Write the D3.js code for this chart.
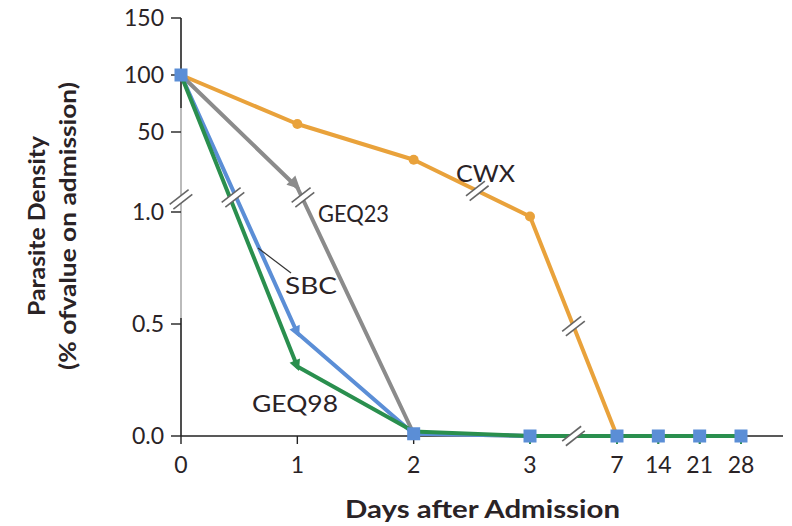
<!DOCTYPE html>
<html><head><meta charset="utf-8">
<script src="https://cdn.jsdelivr.net/npm/d3@7"></script>
<style>
html,body{margin:0;padding:0;background:#fff;}
svg{display:block;}
text{font-family:Lato,"Open Sans",sans-serif;fill:#2a2326;}
</style></head><body>
<svg id="c" width="792" height="526"></svg>
<script>
const days = ["0","1","2","3","7","14","21","28"];
const yTickValues = [0, 0.5, 1, 50, 100, 150];
const yTickLabels = ["0.0","0.5","1.0","50","100","150"];
const cwx   = [100, 57, 33, 0.98, 0, null, null, null];
const geq23 = [100, 16, 0.01, 0, 0, 0, 0, 0];
const sbc   = [100, 0.46, 0.01, 0, 0, 0, 0, 0];
const geq98 = [100, 0.31, 0.02, 0, 0, 0, 0, 0];
const seriesNames = ["CWX","GEQ23","SBC","GEQ98"];
const seriesColors = ["#E9A23B","#8B8B8B","#5B8ED6","#2A8F4E"];

const svg = d3.select("#c");
// piecewise scales (broken axes)
const x = d3.scaleLinear().domain([0,3,4,7]).range([181,530,617,741]);
const y = d3.scaleLinear().domain([0,1,50,150]).range([436,212,132,18]);
const idx = d => days.indexOf(d);

// axes
const gx = svg.append("g").attr("transform","translate(0,436)");
gx.append("line").attr("x1",181).attr("x2",783).attr("stroke","#222").attr("stroke-width",1.6);
const xt = gx.selectAll("g.t").data(days).enter().append("g").attr("transform",d=>`translate(${x(idx(d))},0)`);
xt.append("line").attr("y1",0).attr("y2",8).attr("stroke","#222").attr("stroke-width",1.4);
xt.append("text").attr("y",37).attr("text-anchor","middle").style("font-size","23px").text(d=>d);

const gy = svg.append("g").attr("transform","translate(181,0)");
gy.append("line").attr("y1",18).attr("y2",108).attr("stroke","#222").attr("stroke-width",1.6);
gy.append("line").attr("y1",108).attr("y2",318).attr("stroke","#aaa").attr("stroke-width",1.6);
gy.append("line").attr("y1",318).attr("y2",436).attr("stroke","#222").attr("stroke-width",1.6);
const yt = gy.selectAll("g.t").data(yTickValues).enter().append("g").attr("transform",d=>`translate(0,${y(d)})`);
yt.append("line").attr("x1",-10).attr("x2",0).attr("stroke","#222").attr("stroke-width",1.4);
yt.append("text").attr("x",-17).attr("dy","0.36em").attr("text-anchor","end").style("font-size","23px").text((d,i)=>yTickLabels[i]);

// lines
const line = d3.line().defined(d=>d.v!=null).x(d=>x(d.i)).y(d=>y(d.v));
const all = [cwx, geq23, sbc, geq98];
const pts = all.map(s=>s.map((v,i)=>({i,v})));
pts.forEach((p,k)=>{
  svg.append("path").attr("d",line(p)).attr("fill","none").attr("stroke",seriesColors[k])
    .attr("stroke-width",4).attr("stroke-linejoin","round");
});

// markers
svg.selectAll("circle.cwx").data(pts[0].filter(d=>d.i>=1&&d.i<=3)).enter().append("circle")
  .attr("cx",d=>x(d.i)).attr("cy",d=>y(d.v)).attr("r",5).attr("fill",seriesColors[0]);
function tri(cx,cy,ang,col,s){
  const g = svg.append("g").attr("transform",`translate(${cx},${cy}) rotate(${ang})`);
  g.append("path").attr("d",`M0,${s} L${-s*0.8},${-s*0.6} L${s*0.8},${-s*0.6} Z`).attr("fill",col);
}
function segAng(a,b){ return Math.atan2(y(b.v)-y(a.v), x(b.i)-x(a.i))*180/Math.PI - 90; }
tri(x(1)-3, y(geq23[1])-4, segAng(pts[1][0],pts[1][1]), seriesColors[1], 8);
tri(x(1)-1, y(sbc[1])-2, segAng(pts[2][0],pts[2][1]), seriesColors[2], 7);
tri(x(1)-1, y(geq98[1])-2, segAng(pts[3][0],pts[3][1]), seriesColors[3], 7);
svg.selectAll("line.gt").data(pts[3].filter(d=>d.i>=2)).enter().append("line")
  .attr("x1",d=>x(d.i)).attr("x2",d=>x(d.i)).attr("y1",d=>y(d.v)).attr("y2",d=>y(d.v)+8)
  .attr("stroke",seriesColors[3]).attr("stroke-width",2);
const sq = pts[2].filter(d=>d.i!==1);
svg.selectAll("rect.sq").data(sq).enter().append("rect")
  .attr("x",d=>x(d.i)-6.5).attr("y",d=>y(d.v)-6.5).attr("width",13).attr("height",13)
  .attr("fill",seriesColors[2]);

// break marks
function brk(cx,cy){
  const g = svg.append("g").attr("transform",`translate(${cx},${cy}) rotate(-38)`);
  g.append("rect").attr("x",-12).attr("y",-3).attr("width",24).attr("height",6).attr("fill","#fff");
  g.append("line").attr("x1",-12).attr("x2",12).attr("y1",-3).attr("y2",-3).attr("stroke","#666").attr("stroke-width",1.6);
  g.append("line").attr("x1",-12).attr("x2",12).attr("y1",3).attr("y2",3).attr("stroke","#666").attr("stroke-width",1.6);
}
const breakVal = 10;
function crossX(p, v){
  const yy = y(v);
  for(let k=0;k<p.length-1;k++){
    const a=p[k], b=p[k+1]; if(a.v==null||b.v==null) continue;
    const ya=y(a.v), yb=y(b.v);
    if((ya-yy)*(yb-yy)<=0 && ya!==yb){
      return x(a.i)+(yy-ya)/(yb-ya)*(x(b.i)-x(a.i));
    }
  }
  return null;
}
brk(181, y(breakVal)+2);
brk((crossX(pts[2],breakVal)+crossX(pts[3],breakVal))/2, y(breakVal));
brk(crossX(pts[1],breakVal)+1, y(breakVal));
brk(crossX(pts[0],14), y(14));
{
  const xi = 3.5;
  const ya = y(cwx[3]), yb = y(cwx[4]);
  brk(x(xi), ya + (x(xi)-x(3))/(x(4)-x(3))*(yb-ya));
  brk(x(xi), 436);
}

// labels
const lab = svg.append("g").style("font-size","23px");
lab.append("text").attr("x",456).attr("y",182).attr("textLength",59).attr("lengthAdjust","spacingAndGlyphs").text("CWX");
lab.append("text").attr("x",318).attr("y",222).attr("textLength",71).attr("lengthAdjust","spacingAndGlyphs").text("GEQ23");
lab.append("text").attr("x",285).attr("y",294).attr("textLength",52).attr("lengthAdjust","spacingAndGlyphs").text("SBC");
lab.append("text").attr("x",252).attr("y",412).attr("textLength",86).attr("lengthAdjust","spacingAndGlyphs").text("GEQ98");
svg.append("line").attr("x1",258).attr("y1",248).attr("x2",291).attr("y2",273).attr("stroke","#333").attr("stroke-width",1.2);

// axis titles
svg.append("text").attr("x",345).attr("y",518).attr("textLength",275).attr("lengthAdjust","spacingAndGlyphs")
  .style("font-size","25px").style("font-weight","bold").text("Days after Admission");
const yl = svg.append("g").attr("transform","translate(0,226) rotate(-90)");
yl.append("text").attr("x",-90).attr("y",45).attr("textLength",180).attr("lengthAdjust","spacingAndGlyphs")
  .style("font-size","22px").style("font-weight","bold").text("Parasite Density");
yl.append("text").attr("x",-144).attr("y",76).attr("textLength",288).attr("lengthAdjust","spacingAndGlyphs")
  .style("font-size","22px").style("font-weight","bold").text("(% ofvalue on admission)");
</script>
</body></html>
